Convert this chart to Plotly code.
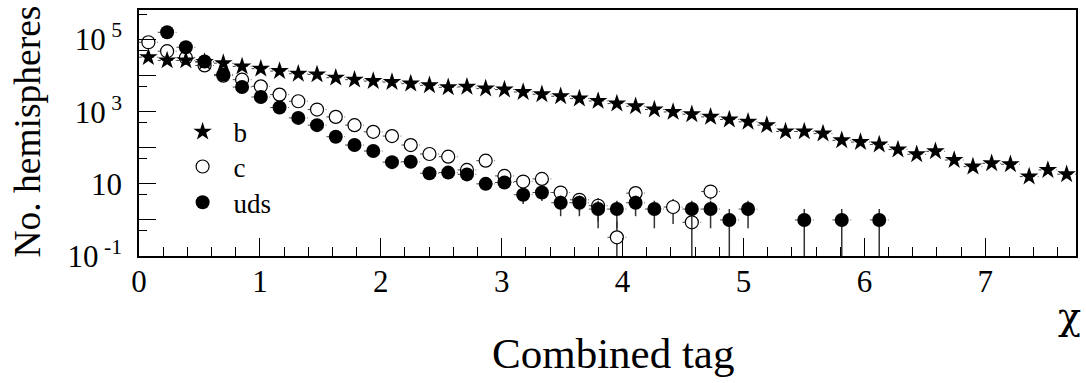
import math
import plotly.graph_objects as go

# Combined-tag distribution: 50 bins of width 0.155 between 0 and 7.75
BIN_WIDTH = 0.155
chi = [0.0775, 0.2325, 0.3875, 0.5425, 0.6975, 0.8525, 1.0075, 1.1625, 1.3175, 1.4725,
       1.6275, 1.7825, 1.9375, 2.0925, 2.2475, 2.4025, 2.5575, 2.7125, 2.8675, 3.0225,
       3.1775, 3.3325, 3.4875, 3.6425, 3.7975, 3.9525, 4.1075, 4.2625, 4.4175, 4.5725,
       4.7275, 4.8825, 5.0375, 5.1925, 5.3475, 5.5025, 5.6575, 5.8125, 5.9675, 6.1225,
       6.2775, 6.4325, 6.5875, 6.7425, 6.8975, 7.0525, 7.2075, 7.3625, 7.5175, 7.6725]

n_b = [32500, 26400, 26400, 23700, 22200, 18000, 15600, 13400, 11300, 10800,
       8780, 7730, 7080, 6640, 6000, 5380, 4740, 4890, 4370, 4100,
       3520, 3040, 2680, 2310, 1990, 1680, 1420, 1150, 986, 853,
       719, 609, 523, 424, 284, 284, 247, 161, 144, 123,
       89.5, 65.9, 79.8, 45.9, 30.0, 37.2, 34.9, 15.9, 24.3, 18.5]

n_c = [84300, 47600, 31300, 19200, 10000, 7730, 5050, 2980, 1950, 1150,
       719, 424, 277, 211, 119, 67.3, 56.6, 24.3, 43.9, 16.6,
       11.6, 13.7, 5.75, 3.62, 2.47, 0.33, 5.54, None, 2.28, 0.86,
       6.13, None, None, None, None, None, None, None, None, None,
       None, None, None, None, None, None, None, None, None, None]

n_uds = [None, 159000, 61300, 24700, 10800, 4830, 2560, 1306, 675, 424,
         202, 119, 81.3, 40, 41, 19.7, 20.5, 18.3, 10, 10.9,
         5, 5.75, 3, 3, 2, 2, 3, 2, None, 2,
         2, 1, 2, None, None, 1, None, 1, None, 1,
         None, None, None, None, None, None, None, None, None, None]

x_tick_vals = [0, 1, 2, 3, 4, 5, 6, 7]
y_tick_vals = [0.1, 1, 10, 100, 1000, 1e4, 1e5]
y_tick_text = ["10<sup>\u00a0-1</sup>", "", "10", "", "10<sup>\u00a03</sup>", "", "10<sup>\u00a05</sup>"]
y_minor_vals = [0.05, 0.5, 5, 50, 500, 5000, 5e4, 5e5]

FONT = "Liberation Serif"
GREEK_FONT = "DejaVu Serif"
INK = "#000000"


def bin_segments(values):
    xs, ys = [], []
    for x, v in zip(chi, values):
        if v is None:
            continue
        xs += [x - BIN_WIDTH / 2, x + BIN_WIDTH / 2, None]
        ys += [v, v, None]
    return xs, ys


def stat_err(values):
    return [math.sqrt(v) if v is not None else None for v in values]


# (label, counts, marker style, legend slot); c is drawn first so the
# stars and full dots sit on top of the white-filled open circles
series = [
    ("c", n_c, dict(symbol="circle", size=13, color="white",
                    line=dict(width=1.2, color=INK)), "legend2"),
    ("b", n_b, dict(symbol="star", size=14, color=INK, line=dict(width=0)), "legend"),
    ("uds", n_uds, dict(symbol="circle", size=14, color=INK, line=dict(width=0)), "legend3"),
]

fig = go.Figure()

# dotted bin-width bars
for name, vals, _, _ in series:
    sx, sy = bin_segments(vals)
    fig.add_trace(go.Scatter(
        x=sx, y=sy, mode="lines", showlegend=False, hoverinfo="skip",
        line=dict(color="#444444", width=1, dash="dot"),
    ))

# points with statistical error bars
for name, vals, mk, leg in series:
    fig.add_trace(go.Scatter(
        x=chi, y=vals, mode="markers", name=name, marker=mk, legend=leg,
        error_y=dict(type="data", array=stat_err(vals), symmetric=True,
                     color="#333333", thickness=1.5, width=0),
    ))

fig.add_annotation(text="No. hemispheres", xref="paper", yref="paper",
                   x=-0.1185, y=0.5057, xanchor="center", yanchor="middle",
                   textangle=-90, showarrow=False,
                   font=dict(family=FONT, size=37.5, color=INK))
fig.add_annotation(text="Combined tag", xref="paper", yref="paper",
                   x=0.5055, y=-0.398, xanchor="center", yanchor="middle",
                   showarrow=False, font=dict(family=FONT, size=43, color=INK))
fig.add_annotation(text="χ", xref="paper", yref="paper",
                   x=0.9935, y=-0.245, xanchor="center", yanchor="middle",
                   showarrow=False, font=dict(family=GREEK_FONT, size=38, color=INK))

legend_style = dict(xanchor="left", yanchor="middle", bgcolor="rgba(0,0,0,0)",
                    font=dict(family=FONT, size=27, color=INK), itemwidth=52)

fig.update_layout(
    width=1086, height=383,
    margin=dict(l=139, r=8, t=9, b=127),
    paper_bgcolor="white", plot_bgcolor="white",
    font=dict(family=FONT, color=INK),
    legend=dict(x=0.0348, y=0.5036, **legend_style),
    legend2=dict(x=0.0348, y=0.362, **legend_style),
    legend3=dict(x=0.0348, y=0.2164, **legend_style),
    xaxis=dict(
        range=[0, 7.75], showgrid=False, zeroline=False,
        showline=True, mirror=True, linecolor=INK, linewidth=1.5,
        ticks="inside", ticklen=18, tickwidth=1, tickcolor=INK,
        tickvals=x_tick_vals, ticktext=[str(v) for v in x_tick_vals],
        tickfont=dict(family=FONT, size=31, color=INK),
        ticklabelstandoff=-3,
        minor=dict(dtick=0.2, ticks="inside", ticklen=9, tickwidth=1, tickcolor=INK),
    ),
    yaxis=dict(
        type="log", range=[-1, 5.82], showgrid=False, zeroline=False,
        showline=True, mirror=True, linecolor=INK, linewidth=1.5,
        ticks="inside", ticklen=17, tickwidth=1, tickcolor=INK,
        tickvals=y_tick_vals, ticktext=y_tick_text,
        tickfont=dict(family=FONT, size=31, color=INK),
        ticklabelstandoff=9,
        minor=dict(tickvals=y_minor_vals, ticks="inside", ticklen=8,
                   tickwidth=1, tickcolor=INK),
    ),
)

fig.write_html("out.html")
